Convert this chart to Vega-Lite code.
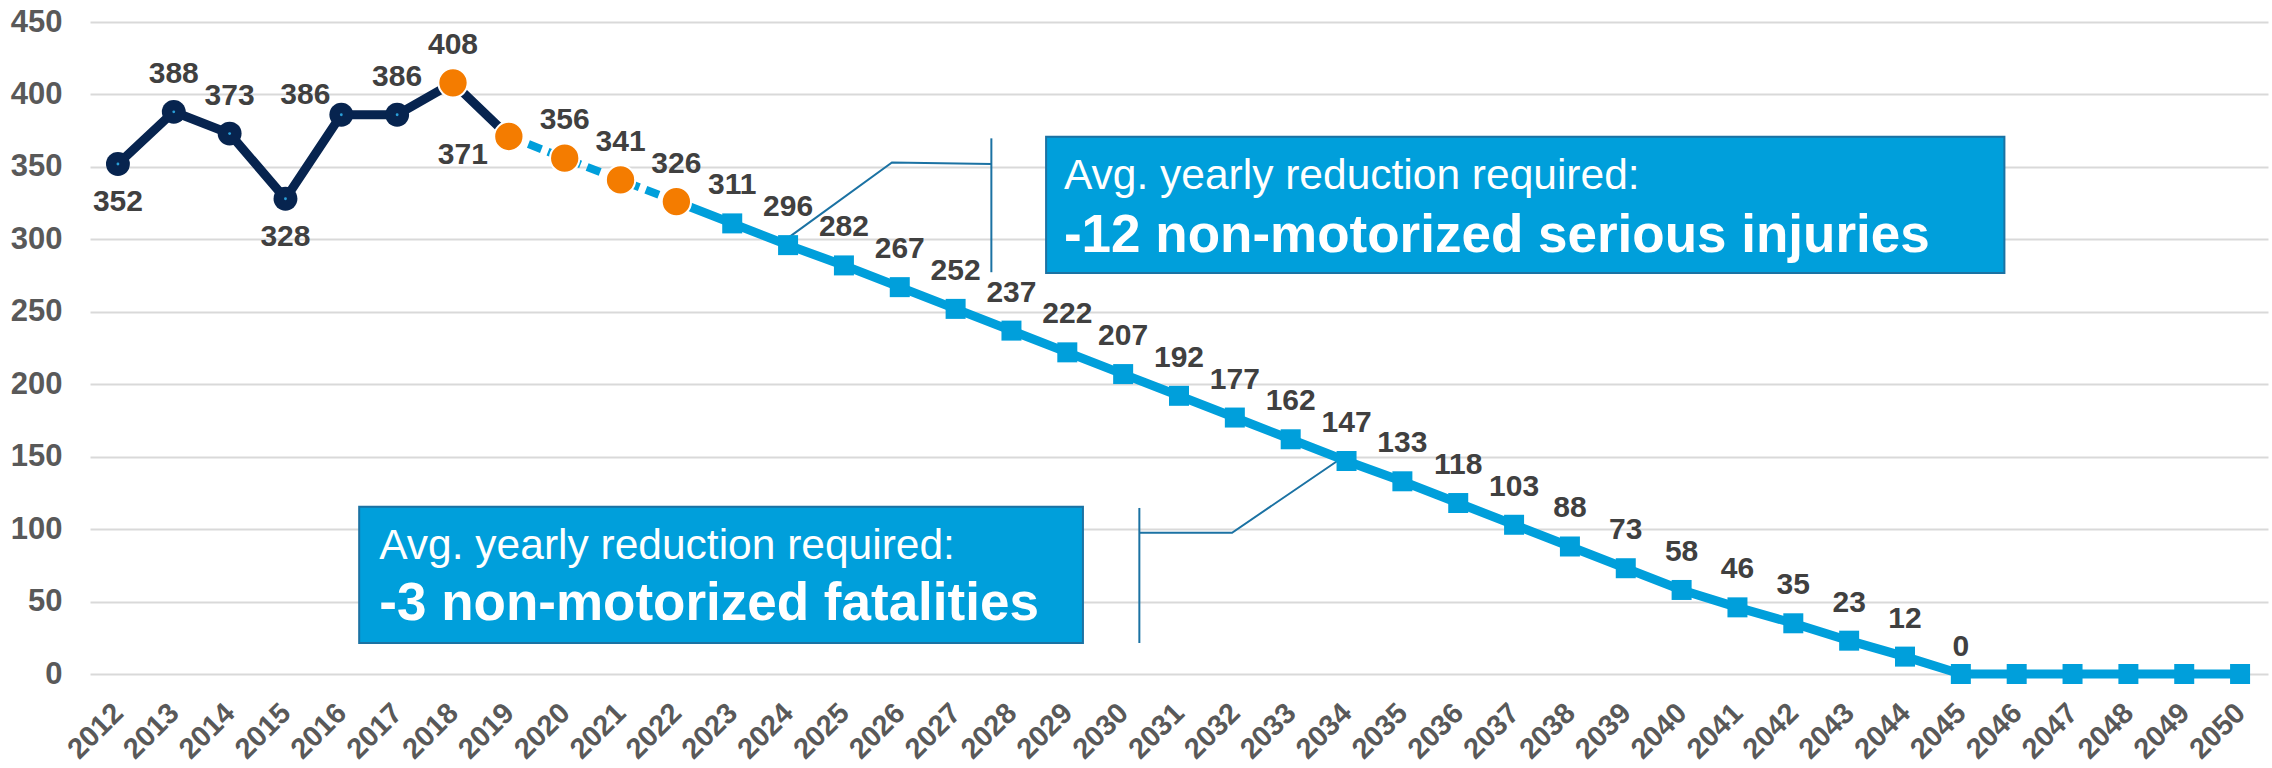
{
  "$schema": "https://vega.github.io/schema/vega-lite/v6.json",
  "width": 2178,
  "height": 652,
  "autosize": {"type": "none"},
  "padding": {"left": 90, "top": 22, "right": 4, "bottom": 94},
  "background": "white",
  "config": {"view": {"stroke": null}, "font": "Liberation Sans, Arial, sans-serif"},
  "datasets": {
    "counts": [
      {"year": 2012, "value": 352, "phase": "actual"},
      {"year": 2013, "value": 388, "phase": "actual"},
      {"year": 2014, "value": 373, "phase": "actual"},
      {"year": 2015, "value": 328, "phase": "actual"},
      {"year": 2016, "value": 386, "phase": "actual"},
      {"year": 2017, "value": 386, "phase": "actual"},
      {"year": 2018, "value": 408, "phase": "recent"},
      {"year": 2019, "value": 371, "phase": "recent"},
      {"year": 2020, "value": 356, "phase": "recent"},
      {"year": 2021, "value": 341, "phase": "recent"},
      {"year": 2022, "value": 326, "phase": "recent"},
      {"year": 2023, "value": 311, "phase": "target"},
      {"year": 2024, "value": 296, "phase": "target"},
      {"year": 2025, "value": 282, "phase": "target"},
      {"year": 2026, "value": 267, "phase": "target"},
      {"year": 2027, "value": 252, "phase": "target"},
      {"year": 2028, "value": 237, "phase": "target"},
      {"year": 2029, "value": 222, "phase": "target"},
      {"year": 2030, "value": 207, "phase": "target"},
      {"year": 2031, "value": 192, "phase": "target"},
      {"year": 2032, "value": 177, "phase": "target"},
      {"year": 2033, "value": 162, "phase": "target"},
      {"year": 2034, "value": 147, "phase": "target"},
      {"year": 2035, "value": 133, "phase": "target"},
      {"year": 2036, "value": 118, "phase": "target"},
      {"year": 2037, "value": 103, "phase": "target"},
      {"year": 2038, "value": 88, "phase": "target"},
      {"year": 2039, "value": 73, "phase": "target"},
      {"year": 2040, "value": 58, "phase": "target"},
      {"year": 2041, "value": 46, "phase": "target"},
      {"year": 2042, "value": 35, "phase": "target"},
      {"year": 2043, "value": 23, "phase": "target"},
      {"year": 2044, "value": 12, "phase": "target"},
      {"year": 2045, "value": 0, "phase": "target"},
      {"year": 2046, "value": 0, "phase": "target"},
      {"year": 2047, "value": 0, "phase": "target"},
      {"year": 2048, "value": 0, "phase": "target"},
      {"year": 2049, "value": 0, "phase": "target"},
      {"year": 2050, "value": 0, "phase": "target"}
    ],
    "boxes": [
      {"callout": "injuries", "x1": 2028.62, "x2": 2045.78, "y1": 276.7, "y2": 370.8},
      {"callout": "fatalities", "x1": 2016.32, "x2": 2029.28, "y1": 21.4, "y2": 115.5}
    ],
    "brackets": [
      {"callout": "injuries", "year": 2027.64, "low": 277.3, "high": 369.7},
      {"callout": "fatalities", "year": 2030.29, "low": 21.4, "high": 114.6}
    ],
    "leaders": [
      {"callout": "injuries", "seq": 1, "year": 2024, "value": 301},
      {"callout": "injuries", "seq": 2, "year": 2025.86, "value": 353},
      {"callout": "injuries", "seq": 3, "year": 2027.64, "value": 352},
      {"callout": "fatalities", "seq": 1, "year": 2033.94, "value": 149.8},
      {"callout": "fatalities", "seq": 2, "year": 2031.95, "value": 97.5},
      {"callout": "fatalities", "seq": 3, "year": 2030.29, "value": 97.5}
    ],
    "notes": [
      {"callout": "injuries", "line": "intro", "year": 2028.94, "value": 334.7, "text": "Avg. yearly reduction required:"},
      {"callout": "injuries", "line": "main", "year": 2028.94, "value": 291.5, "text": "-12 non-motorized serious injuries"},
      {"callout": "fatalities", "line": "intro", "year": 2016.68, "value": 79.5, "text": "Avg. yearly reduction required:"},
      {"callout": "fatalities", "line": "main", "year": 2016.68, "value": 37.3, "text": "-3 non-motorized fatalities"}
    ]
  },
  "layer": [
    {
      "data": {"name": "boxes"},
      "mark": {"type": "rect", "fill": "#009FDB", "stroke": "#1B72A3", "strokeWidth": 2},
      "encoding": {
        "x": {"field": "x1", "type": "quantitative", "scale": {"domain": [2011.5, 2050.5], "nice": false, "zero": false},
          "axis": {"values": [2012,2013,2014,2015,2016,2017,2018,2019,2020,2021,2022,2023,2024,2025,2026,2027,2028,2029,2030,2031,2032,2033,2034,2035,2036,2037,2038,2039,2040,2041,2042,2043,2044,2045,2046,2047,2048,2049,2050],
            "format": "d", "title": null, "grid": false, "domain": false, "ticks": false, "labelAngle": -45, "labelAlign": "right", "labelBaseline": "middle",
            "labelFontSize": 29, "labelFontWeight": "bold", "labelColor": "#595959", "labelPadding": 34, "labelOverlap": false, "labelFlush": false}},
        "x2": {"field": "x2"},
        "y": {"field": "y1", "type": "quantitative", "scale": {"domain": [0, 450], "nice": false},
          "axis": {"values": [0,50,100,150,200,250,300,350,400,450], "title": null, "grid": true, "gridColor": "#D9D9D9", "gridWidth": 2,
            "domain": false, "ticks": false, "labelFontSize": 31, "labelFontWeight": "bold", "labelColor": "#595959", "labelPadding": 28}},
        "y2": {"field": "y2"}
      }
    },
    {
      "data": {"name": "brackets"},
      "mark": {"type": "rule", "color": "#1B72A3", "strokeWidth": 2},
      "encoding": {
        "x": {"field": "year", "type": "quantitative"},
        "y": {"field": "low", "type": "quantitative"},
        "y2": {"field": "high"}
      }
    },
    {
      "data": {"name": "leaders"},
      "mark": {"type": "line", "color": "#1B72A3", "strokeWidth": 2},
      "encoding": {
        "x": {"field": "year", "type": "quantitative"},
        "y": {"field": "value", "type": "quantitative"},
        "detail": {"field": "callout"},
        "order": {"field": "seq"}
      }
    },
    {
      "data": {"name": "notes"},
      "transform": [{"filter": "datum.line == 'intro'"}],
      "mark": {"type": "text", "align": "left", "baseline": "alphabetic", "color": "white", "fontSize": 42.5},
      "encoding": {
        "x": {"field": "year", "type": "quantitative"},
        "y": {"field": "value", "type": "quantitative"},
        "text": {"field": "text"}
      }
    },
    {
      "data": {"name": "notes"},
      "transform": [{"filter": "datum.line == 'main'"}],
      "mark": {"type": "text", "align": "left", "baseline": "alphabetic", "color": "white", "fontSize": 53, "fontWeight": "bold"},
      "encoding": {
        "x": {"field": "year", "type": "quantitative"},
        "y": {"field": "value", "type": "quantitative"},
        "text": {"field": "text"}
      }
    },
    {
      "data": {"name": "counts"},
      "transform": [{"filter": "datum.year <= 2019"}],
      "mark": {"type": "line", "color": "#07244F", "strokeWidth": 9},
      "encoding": {"x": {"field": "year", "type": "quantitative"}, "y": {"field": "value", "type": "quantitative"}}
    },
    {
      "data": {"name": "counts"},
      "transform": [{"filter": "datum.year >= 2019 && datum.year <= 2022"}],
      "mark": {"type": "line", "color": "#009FDB", "strokeWidth": 8, "strokeDash": [14, 7]},
      "encoding": {"x": {"field": "year", "type": "quantitative"}, "y": {"field": "value", "type": "quantitative"}}
    },
    {
      "data": {"name": "counts"},
      "transform": [{"filter": "datum.year >= 2022"}],
      "mark": {"type": "line", "color": "#009FDB", "strokeWidth": 9},
      "encoding": {"x": {"field": "year", "type": "quantitative"}, "y": {"field": "value", "type": "quantitative"}}
    },
    {
      "data": {"name": "counts"},
      "transform": [{"filter": "datum.phase == 'target'"}],
      "mark": {"type": "square", "color": "#009FDB", "opacity": 1, "filled": true, "size": 400},
      "encoding": {"x": {"field": "year", "type": "quantitative"}, "y": {"field": "value", "type": "quantitative"}}
    },
    {
      "data": {"name": "counts"},
      "transform": [{"filter": "datum.phase == 'actual'"}],
      "mark": {"type": "circle", "color": "#07244F", "opacity": 1, "size": 570},
      "encoding": {"x": {"field": "year", "type": "quantitative"}, "y": {"field": "value", "type": "quantitative"}}
    },
    {
      "data": {"name": "counts"},
      "transform": [{"filter": "datum.phase == 'actual'"}],
      "mark": {"type": "circle", "color": "#2A9FD8", "opacity": 1, "size": 8},
      "encoding": {"x": {"field": "year", "type": "quantitative"}, "y": {"field": "value", "type": "quantitative"}}
    },
    {
      "data": {"name": "counts"},
      "transform": [{"filter": "datum.phase == 'recent'"}],
      "mark": {"type": "circle", "fill": "#F47C00", "opacity": 1, "fillOpacity": 1, "size": 860, "stroke": "white", "strokeWidth": 2},
      "encoding": {"x": {"field": "year", "type": "quantitative"}, "y": {"field": "value", "type": "quantitative"}}
    },
    {
      "data": {"name": "counts"},
      "transform": [{"filter": "datum.year <= 2045 && indexof([2012, 2015, 2016, 2019, 2045], datum.year) < 0"}],
      "mark": {"type": "text", "dy": -38, "baseline": "middle", "align": "center", "fontSize": 30, "fontWeight": "bold", "color": "#404040"},
      "encoding": {"x": {"field": "year", "type": "quantitative"}, "y": {"field": "value", "type": "quantitative"}, "text": {"field": "value", "type": "quantitative", "format": "d"}}
    },
    {
      "data": {"name": "counts"},
      "transform": [{"filter": "datum.year == 2012 || datum.year == 2015"}],
      "mark": {"type": "text", "dy": 38, "baseline": "middle", "align": "center", "fontSize": 30, "fontWeight": "bold", "color": "#404040"},
      "encoding": {"x": {"field": "year", "type": "quantitative"}, "y": {"field": "value", "type": "quantitative"}, "text": {"field": "value", "type": "quantitative", "format": "d"}}
    },
    {
      "data": {"name": "counts"},
      "transform": [{"filter": "datum.year == 2016"}],
      "mark": {"type": "text", "dx": -36, "dy": -20, "baseline": "middle", "align": "center", "fontSize": 30, "fontWeight": "bold", "color": "#404040"},
      "encoding": {"x": {"field": "year", "type": "quantitative"}, "y": {"field": "value", "type": "quantitative"}, "text": {"field": "value", "type": "quantitative", "format": "d"}}
    },
    {
      "data": {"name": "counts"},
      "transform": [{"filter": "datum.year == 2019"}],
      "mark": {"type": "text", "dx": -21, "dy": 19, "baseline": "middle", "align": "right", "fontSize": 30, "fontWeight": "bold", "color": "#404040"},
      "encoding": {"x": {"field": "year", "type": "quantitative"}, "y": {"field": "value", "type": "quantitative"}, "text": {"field": "value", "type": "quantitative", "format": "d"}}
    },
    {
      "data": {"name": "counts"},
      "transform": [{"filter": "datum.year == 2045"}],
      "mark": {"type": "text", "dy": -27, "baseline": "middle", "align": "center", "fontSize": 30, "fontWeight": "bold", "color": "#404040"},
      "encoding": {"x": {"field": "year", "type": "quantitative"}, "y": {"field": "value", "type": "quantitative"}, "text": {"field": "value", "type": "quantitative", "format": "d"}}
    }
  ]
}
